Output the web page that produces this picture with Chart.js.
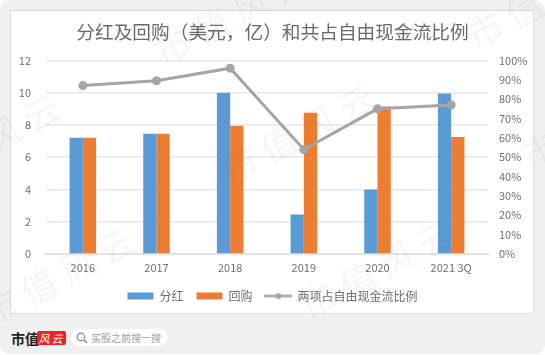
<!DOCTYPE html>
<html>
<head>
<meta charset="utf-8">
<script src="https://cdn.jsdelivr.net/npm/chart.js@4"></script>
<style>
  html, body { margin: 0; padding: 0; background: #fff; }
  body { width: 545px; height: 355px; overflow: hidden; position: relative; font-family: "Noto Sans CJK SC", sans-serif; }
  #panel { position: absolute; left: 0; top: 0; width: 545px; height: 354px; background: #f0f0f0; border-radius: 10px; }
  #card { position: absolute; left: 10px; top: 10px; width: 522px; height: 302px; background: #fff; border: 1px solid #d9d9d9; border-right-color: #e6e6e6; border-bottom-color: #e6e6e6; }
  #brand { position: absolute; left: 11px; top: 328px; font: bold 14px/20px "Noto Sans CJK SC", sans-serif; color: #222; }
  #badge { position: absolute; left: 37px; top: 331px; width: 29px; height: 14px; background: #f0232d; border-radius: 2px; color: #fff; font: italic 11px/14px "Noto Sans CJK SC", sans-serif; text-align: center; letter-spacing: 2px; }
  #search { position: absolute; left: 71px; top: 329px; width: 97px; height: 17px; background: #fff; border-radius: 9px; color: #a0a0a0; font: 10px/17px "Noto Sans CJK SC", sans-serif; text-indent: 20px; }
  #search svg { position: absolute; left: 5px; top: 3px; }
  canvas { position: absolute; left: 0; top: 0; filter: blur(0.3px); }
</style>
</head>
<body>
<div id="panel"></div>
<div id="card"></div>
<div id="brand">市值</div>
<div id="badge">风云</div>
<div id="search">
  <svg width="12" height="12" viewBox="0 0 12 12"><circle cx="5" cy="5" r="3.8" fill="none" stroke="#888" stroke-width="1.2"/><line x1="8" y1="8" x2="11" y2="11" stroke="#888" stroke-width="1.4"/></svg>
  买股之前搜一搜
</div>
<canvas id="chart" width="545" height="355"></canvas>
<script>
const categories = ["2016", "2017", "2018", "2019", "2020", "2021 3Q"];
const dividends = [7.2, 7.45, 10, 2.45, 4, 9.95];
const buybacks = [7.2, 7.45, 7.95, 8.75, 9.15, 7.25];
const fcfShare = [0.87, 0.895, 0.96, 0.54, 0.75, 0.77];
const titleText = "分红及回购（美元，亿）和共占自由现金流比例";
const watermarkSpots = [[173, 47], [485, 30], [-75, 175], [240, 165], [540, 150], [0, 308], [319, 301]];

const textGray = "#6f6f6f";
const cjk = '"Noto Sans CJK SC", sans-serif';

// little line-with-dot swatch for the legend
const lineSwatch = document.createElement("canvas");
lineSwatch.width = 28;
lineSwatch.height = 7;
const sw = lineSwatch.getContext("2d");
sw.strokeStyle = "#a5a5a5";
sw.lineWidth = 2.5;
sw.beginPath();
sw.moveTo(0, 3.5);
sw.lineTo(28, 3.5);
sw.stroke();
sw.fillStyle = "#a5a5a5";
sw.beginPath();
sw.arc(14, 3.5, 3, 0, Math.PI * 2);
sw.fill();

const watermark = {
  id: "watermark",
  afterDraw(chart) {
    const ctx = chart.ctx;
    ctx.save();
    ctx.font = "36px " + cjk;
    ctx.fillStyle = "rgba(110,110,110,0.06)";
    ctx.textBaseline = "middle";
    ctx.letterSpacing = "8px";
    watermarkSpots.forEach(([x, y]) => {
      ctx.save();
      ctx.translate(x, y);
      ctx.rotate(-0.49);
      ctx.textAlign = "left";
      ctx.fillText("市值风云", -18, 0);
      ctx.restore();
    });
    ctx.restore();
  },
};

new Chart(document.getElementById("chart"), {
  data: {
    labels: categories,
    datasets: [
      { type: "line", label: "两项占自由现金流比例", data: fcfShare, yAxisID: "pct", borderColor: "#a5a5a5", backgroundColor: "#a5a5a5", borderWidth: 3, pointRadius: 3, pointBackgroundColor: "#a5a5a5", tension: 0, order: 0 },
      { type: "bar", label: "分红", data: dividends, yAxisID: "usd", backgroundColor: "#5b9bd5", order: 1, barPercentage: 1, categoryPercentage: 0.36 },
      { type: "bar", label: "回购", data: buybacks, yAxisID: "usd", backgroundColor: "#ed7d31", order: 1, barPercentage: 1, categoryPercentage: 0.36 },
    ],
  },
  options: {
    responsive: false,
    animation: false,
    layout: { padding: { top: 16, bottom: 43, left: 0, right: 0 } },
    plugins: {
      title: {
        display: true,
        text: titleText,
        color: "#6a6a6a",
        font: { family: cjk, size: 18.7, weight: "normal" },
        padding: { top: 5, bottom: 17 },
      },
      legend: {
        position: "bottom",
        padding: 0,
        labels: {
          color: textGray,
          font: { family: cjk, size: 12 },
          usePointStyle: true,
          pointStyleWidth: 26,
          boxHeight: 7,
          padding: 13,
          sort: (a, b) => (a.text.length - b.text.length),
          generateLabels(chart) {
            return Chart.defaults.plugins.legend.labels.generateLabels(chart).map((item) => {
              item.pointStyle = item.text.length > 2 ? lineSwatch : "rect";
              return item;
            });
          },
        },
      },
    },
    scales: {
      x: {
        grid: { display: false, drawTicks: false },
        border: { color: "#e3e3e3", width: 2 },
        afterFit: (s) => { s.height = 23; },
        ticks: { color: textGray, font: { family: cjk, size: 11 }, padding: 7, maxRotation: 0, autoSkip: false },
      },
      usd: {
        position: "left",
        min: 0,
        max: 12,
        afterFit: (s) => { s.width = 46; },
        grid: { color: "#e8e8e8", lineWidth: 1.5, drawTicks: false },
        border: { display: false },
        ticks: { stepSize: 2, color: textGray, font: { family: cjk, size: 11 }, padding: 15 },
      },
      pct: {
        position: "right",
        min: 0,
        max: 1,
        afterFit: (s) => { s.width = 57; },
        grid: { display: false, drawTicks: false },
        border: { display: false },
        ticks: { stepSize: 0.1, color: textGray, font: { family: cjk, size: 11 }, padding: 11, callback: (v) => Math.round(v * 100) + "%" },
      },
    },
  },
  plugins: [watermark],
});
</script>
</body>
</html>
